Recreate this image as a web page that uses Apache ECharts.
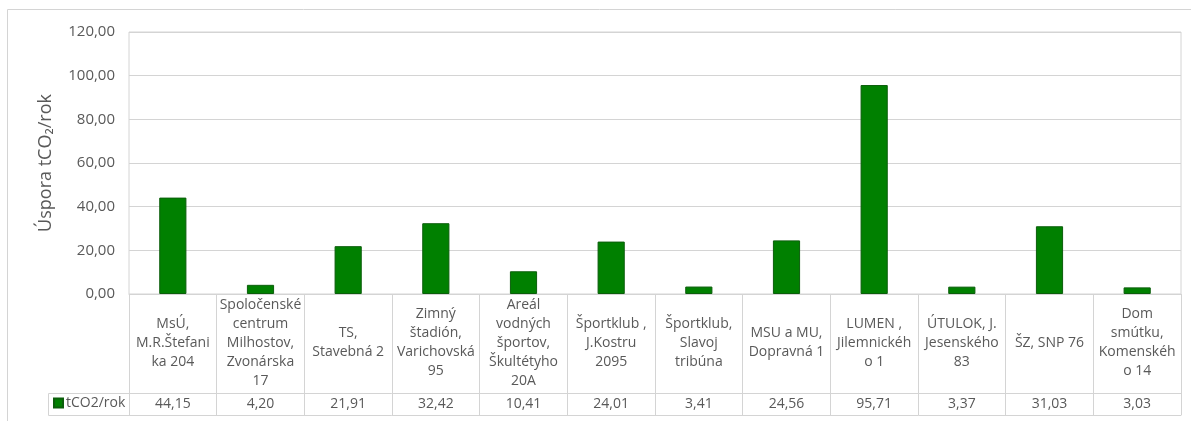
<!DOCTYPE html>
<html>
<head>
<meta charset="utf-8">
<script src="https://cdn.jsdelivr.net/npm/echarts@6/dist/echarts.min.js"></script>
<style>
html,body{margin:0;padding:0;background:#fff;}
#chart{width:1191px;height:421px;}
</style>
</head>
<body>
<div id="chart"></div>
<script>
var categories = [
  "MsÚ,\nM.R.Štefani\nka 204",
  "Spoločenské\ncentrum\nMilhostov,\nZvonárska\n17",
  "TS,\nStavebná 2",
  "Zimný\nštadión,\nVarichovská\n95",
  "Areál\nvodných\nšportov,\nŠkultétyho\n20A",
  "Športklub ,\nJ.Kostru\n2095",
  "Športklub,\nSlavoj\ntribúna",
  "MSU a MU,\nDopravná 1",
  "LUMEN ,\nJilemnickéh\no 1",
  "ÚTULOK, J.\nJesenského\n83",
  "ŠZ, SNP 76",
  "Dom\nsmútku,\nKomenskéh\no 14"
];
var values = [44.15, 4.20, 21.91, 32.42, 10.41, 24.01, 3.41, 24.56, 95.71, 3.37, 31.03, 3.03];
var seriesName = "tCO2/rok";
var yTitle = "Úspora tCO₂/rok";
var yMin = 0, yMax = 120, yStep = 20;

function fmt(v){ return v.toFixed(2).replace('.', ','); }
var valueLabels = values.map(fmt);

var FONT = "Open Sans";
var TXT = "#595959";
var LINE = "#d4d4d4";

var chart = echarts.init(document.getElementById('chart'));
chart.setOption({
  animation: false,
  textStyle: { fontFamily: FONT },
  grid: { left: 129, right: 10, top: 32, bottom: 127, show: true, borderColor: LINE, borderWidth: 1 },
  graphic: [
    { type: 'rect', silent: true, shape: { x: 7.5, y: 9.5, width: 1250, height: 500 },
      style: { fill: 'none', stroke: LINE, lineWidth: 1 } },
    { type: 'rect', silent: true, shape: { x: 48.5, y: 393.5, width: 81, height: 22 },
      style: { fill: 'none', stroke: LINE, lineWidth: 1 } }
  ],
  legend: {
    data: [seriesName], left: 53, top: 396, padding: 0,
    itemWidth: 9, itemHeight: 9, itemGap: 4,
    icon: 'rect',
    textStyle: { fontFamily: FONT, fontSize: 14, color: TXT, padding: [0,0,0,-2] }
  },
  xAxis: [
    {
      type: 'category', data: categories, position: 'bottom',
      axisLine: { show: true, lineStyle: { color: LINE, width: 1 } },
      axisTick: { show: true, length: 121, interval: 0, lineStyle: { color: LINE } },
      axisLabel: { interval: 0, fontFamily: FONT, fontSize: 14, lineHeight: 19, color: TXT,
                   margin: 49, verticalAlign: 'middle', hideOverlap: false }
    },
    {
      type: 'category', data: valueLabels, position: 'bottom', offset: 99,
      axisLine: { show: true, lineStyle: { color: LINE, width: 1 } },
      axisTick: { show: false },
      axisLabel: { interval: 0, fontFamily: FONT, fontSize: 14, color: TXT,
                   margin: 11, verticalAlign: 'middle' }
    },
    {
      type: 'category', data: valueLabels, position: 'bottom', offset: 121,
      axisLine: { show: true, lineStyle: { color: LINE, width: 1 } },
      axisTick: { show: false },
      axisLabel: { show: false }
    }
  ],
  yAxis: {
    type: 'value', min: yMin, max: yMax, interval: yStep,
    name: yTitle, nameLocation: 'middle', nameGap: 74, nameRotate: 90,
    nameTextStyle: { fontFamily: FONT, fontSize: 18, color: TXT },
    axisLine: { show: false }, axisTick: { show: false },
    axisLabel: { formatter: fmt, fontFamily: FONT, fontSize: 15, color: TXT, margin: 14 },
    splitLine: { lineStyle: { color: LINE, width: 1 } }
  },
  series: [{
    name: seriesName, type: 'bar', data: values, xAxisIndex: 0,
    barWidth: '31%',
    itemStyle: { color: '#008000', borderColor: '#0b5e0b', borderWidth: 1 }
  }]
});
</script>
</body>
</html>
